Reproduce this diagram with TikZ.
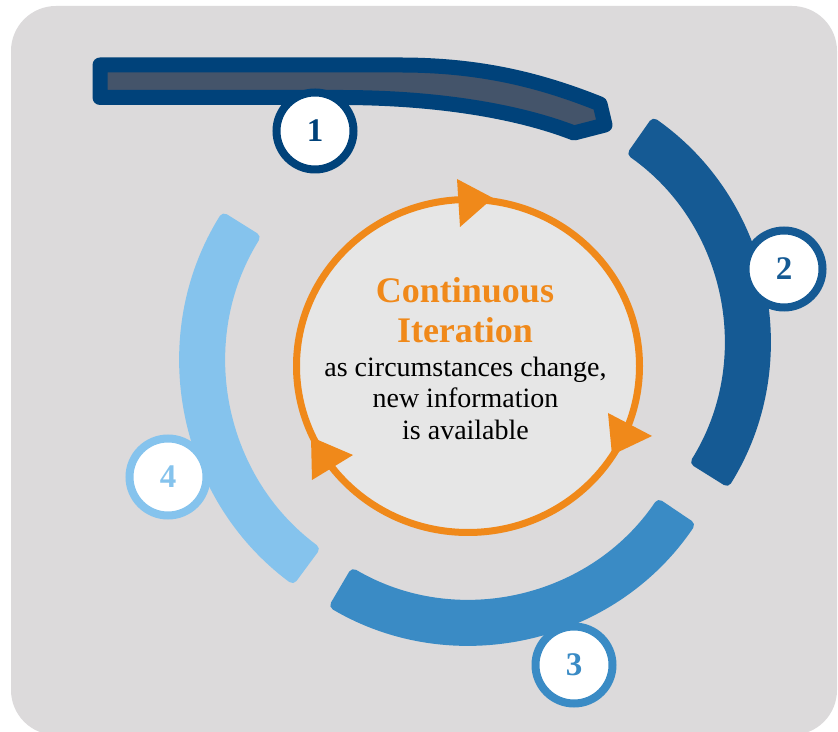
\documentclass[tikz,border=0pt]{standalone}
\usepackage{fontspec}
\setmainfont{Liberation Serif}
\usepackage{xcolor}
\usepackage{tikz}
\definecolor{azulEscuro}{HTML}{00427A}
\definecolor{ardosia}{HTML}{44546A}
\definecolor{azulMedio}{HTML}{155A94}
\definecolor{azul}{HTML}{3A8BC5}
\definecolor{azulClaro}{HTML}{85C3ED}
\definecolor{fundo}{HTML}{DCDADB}
\definecolor{miolo}{HTML}{E6E6E6}
\definecolor{laranja}{HTML}{F0891A}
\tikzset{
    numero/.style={
        circle,
        draw,
        fill=white,
        line width=8pt,
        minimum size=77pt,
        inner sep=0pt,
        font=\fontsize{33}{33}\selectfont\bfseries
    },
    faixa/.style={rounded corners=5pt},
    ponta/.style={fill=laranja},
    titulo/.style={anchor=base, text=laranja, font=\fontsize{36}{40}\selectfont\bfseries},
    texto/.style={anchor=base, font=\fontsize{28}{32}\selectfont}
}

\begin{document}
\begin{tikzpicture}[x=1pt, y=1pt]
    \fill[white] (0,0) rectangle (838,731);
    \useasboundingbox (0,0) rectangle (838,731);
    \fill[fundo, rounded corners=45pt] (11,-4) rectangle (837,725);

    % segmento 1, puxado para fora do anel
    \filldraw[fill=ardosia, draw=azulEscuro, line width=15pt, line join=round]
        (100,666) -- (400,666)
        .. controls (480,666) and (540,651) .. (600,627)
        -- (605,606) -- (574,598)
        .. controls (520,619) and (440,633.5) .. (340,633.5)
        -- (100,633.5) -- cycle;

    % segmentos 2 a 4 (raio externo, volta pelo raio interno)
    \fill[faixa, azulMedio] (495,389) ++(55:275) arc[start angle=55, end angle=-32, radius=275]
        -- ++(148:46) arc[start angle=-32, end angle=55, radius=229] -- cycle;
    \fill[faixa, azul] (468,361) ++(-34:275) arc[start angle=-34, end angle=-120.5, radius=275]
        -- ++(59.5:46) arc[start angle=-120.5, end angle=-34, radius=229] -- cycle;
    \fill[faixa, azulClaro] (460,371) ++(148:280) arc[start angle=148, end angle=233.5, radius=280]
        -- ++(53.5:46) arc[start angle=233.5, end angle=148, radius=234] -- cycle;

    % ciclo central
    \filldraw[fill=miolo, draw=laranja, line width=7pt] (468,365) ellipse [x radius=171.5, y radius=166.5];
    \fill[ponta] (457,552) -- (493,533) -- (460,504) -- cycle;
    \fill[ponta] (608,318) -- (652,295) -- (612,276) -- cycle;
    \fill[ponta] (311,294) -- (353,276) -- (312,251) -- cycle;

    \node[titulo] (tit1) at (465,428) {Continuous};
    \node[titulo] (tit2) at (465,388) {Iteration};
    \node[texto] (txt1) at (465.5,354) {as circumstances change,};
    \node[texto] (txt2) at (465.5,323) {new information};
    \node[texto] (txt3) at (465.5,291) {is available};

    % marcadores numerados
    \node[numero, draw=azulEscuro, text=azulEscuro] (n1) at (315,600) {1};
    \node[numero, draw=azulMedio, text=azulMedio] (n2) at (784,462) {2};
    \node[numero, draw=azul, text=azul] (n3) at (574,66) {3};
    \node[numero, draw=azulClaro, text=azulClaro] (n4) at (168,254) {4};
\end{tikzpicture}
\end{document}
